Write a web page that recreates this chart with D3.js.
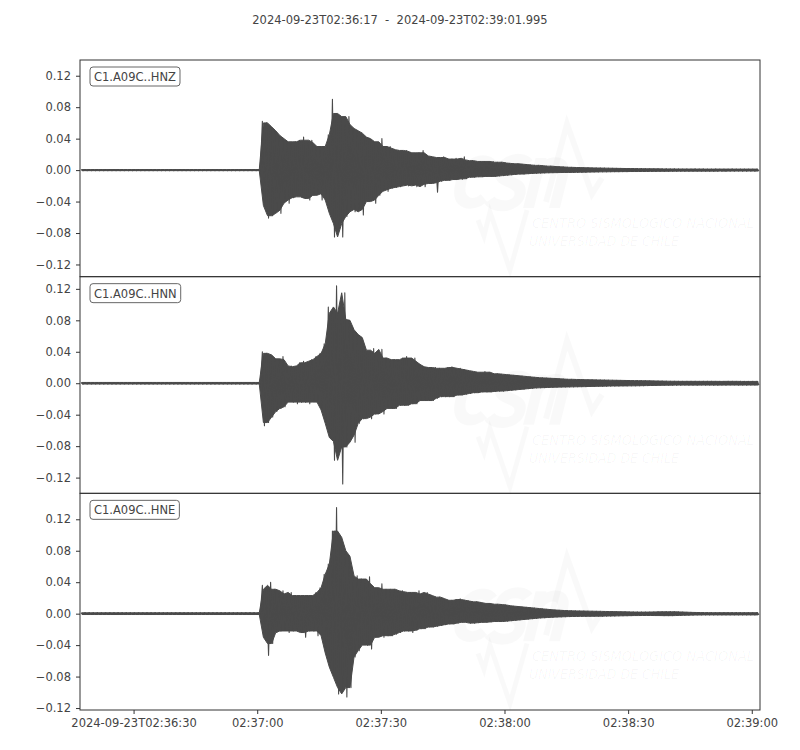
<!DOCTYPE html>
<html><head><meta charset="utf-8">
<script src="https://cdn.jsdelivr.net/npm/d3@7"></script>
<style>body{margin:0;background:#fff} svg{display:block} text{font-family:"DejaVu Sans",sans-serif}</style>
</head><body><svg id="c" width="800" height="750"></svg>
<script>
// ---------------- DATA ----------------
const startTime = "2024-09-23T02:36:17Z";
const endTime = "2024-09-23T02:39:01.995Z";
const titleText = "2024-09-23T02:36:17  -  2024-09-23T02:39:01.995";
const channels = ["C1.A09C..HNZ", "C1.A09C..HNN", "C1.A09C..HNE"];
const sampleStepSec = 1; // one max/min pair per second
// amplitudes below are in units of 0.001 (milli)
const hnzMax = [
 0.7,0.7,0.7,0.7,0.7,0.7,0.7,0.7,0.7,0.7,
 0.7,0.7,0.7,0.7,0.7,0.7,0.7,0.7,0.7,0.7,
 0.7,0.7,0.7,0.7,0.7,0.7,0.7,0.7,0.7,0.7,
 0.7,0.7,0.7,0.7,0.7,0.7,0.7,0.7,0.7,0.7,
 0.7,0.7,0.7,0.7,62,60,55,50,44,40,
 36,33,36,38,42,35,38,30,28,30,
 45,90,72,68,58,68,53,50,47,42,
 40,36,30,40,28,30,26,25,24,25,
 22,20,22,25,18,17,15,16,17,13,
 14,15,13,17,12,12,11,11,11,10,
 11,10,10,9,8.5,8,8,7.5,7,6.5,
 6,6,5.5,5,5,4.5,4.2,4,3.6,3.5,
 3.3,3.2,3,2.9,2.8,2.7,2.6,2.5,2.4,2.3,
 2.2,2.1,2,2,1.9,1.8,1.8,1.7,1.7,1.6,
 1.6,1.5,1.5,1.4,1.5,1.4,1.3,1.4,1.3,1.5,
 1.3,1.4,1.3,1.3,1.4,1.3,1.2,1.3,1.4,1.3,
 1.2,1.3,1.3,1.2,1.3];
const hnzMin = [
 -0.7,-0.7,-0.7,-0.7,-0.7,-0.7,-0.7,-0.7,-0.7,-0.7,
 -0.7,-0.7,-0.7,-0.7,-0.7,-0.7,-0.7,-0.7,-0.7,-0.7,
 -0.7,-0.7,-0.7,-0.7,-0.7,-0.7,-0.7,-0.7,-0.7,-0.7,
 -0.7,-0.7,-0.7,-0.7,-0.7,-0.7,-0.7,-0.7,-0.7,-0.7,
 -0.7,-0.7,-0.7,-0.7,-45,-61,-58,-51,-55,-38,
 -42,-35,-32,-34,-36,-38,-32,-29,-38,-30,
 -55,-85,-68,-85,-59,-47,-53,-50,-57,-40,
 -38,-42,-32,-25,-27,-23,-22,-21,-19,-20,
 -19,-21,-18,-21,-17,-16,-28,-14,-13,-13,
 -12,-11,-12,-11,-9,-9,-8.5,-8.5,-8,-8,
 -8,-7.5,-7,-6.5,-6,-5.5,-5,-5,-4.6,-4.3,
 -4,-3.8,-3.6,-3.4,-3.3,-3.2,-3.1,-3,-3,-2.9,
 -2.8,-2.7,-2.6,-2.5,-2.4,-2.3,-2.2,-2.2,-2.1,-2,
 -2,-1.9,-1.9,-1.8,-1.8,-1.8,-1.7,-1.7,-1.6,-1.6,
 -1.5,-1.5,-1.5,-1.4,-1.3,-1.4,-1.3,-1.3,-1.4,-1.3,
 -1.3,-1.2,-1.3,-1.3,-1.2,-1.3,-1.2,-1.3,-1.2,-1.2,
 -1.3,-1.2,-1.2,-1.3,-1.2];
const hnnMax = [
 1,1,1,1,1,1,1,1,1,1,
 1,1,1,1,1,1,1,1,1,1,
 1,1,1,1,1,1,1,1,1,1,
 1,1,1,1,1,1,1,1,1,1,
 1,1,1,1,40,38,36,31,30,34,
 19,22,21,26,28,23,30,34,38,50,
 97,89,124,81,115,80,68,62,58,42,
 38,44,30,43,32,30,30,28,32,34,
 28,32,24,21,20,19,20,19,18,20,
 21,18,19,17,16,15,14,13,15,14,
 12,12,11.5,11,10.5,10,9.5,9,8.5,8,
 7.5,7,6.8,6.5,6.2,6,5.6,5.3,5,5,
 4.8,4.7,4.5,4.4,4.3,4.2,4.1,4,3.9,3.8,
 3.7,3.6,3.5,3.4,3.3,3.3,3.2,3.1,3,2.9,
 2.8,2.7,2.6,2.5,2.4,2.5,2.4,2.4,2.5,2.4,
 2.3,2.4,2.5,2.4,2.3,2.4,2.3,2.4,2.4,2.3,
 2.4,2.3,2.3,2.4,2.3];
const hnnMin = [
 -1,-1,-1,-1,-1,-1,-1,-1,-1,-1,
 -1,-1,-1,-1,-1,-1,-1,-1,-1,-1,
 -1,-1,-1,-1,-1,-1,-1,-1,-1,-1,
 -1,-1,-1,-1,-1,-1,-1,-1,-1,-1,
 -1,-1,-1,-1,-54,-50,-43,-36,-32,-30,
 -20,-24,-26,-24,-24,-26,-22,-24,-34,-51,
 -69,-98,-74,-128,-81,-66,-75,-51,-45,-43,
 -45,-39,-36,-39,-30,-32,-32,-28,-28,-28,
 -26,-26,-22,-22,-22,-22,-19,-17,-17,-17,
 -17,-15,-15,-14,-13,-12,-12,-11,-11,-11,
 -10.5,-10,-10,-9.5,-9,-8.5,-8,-7.5,-7,-6.5,
 -6,-5.8,-5.6,-5.4,-5.2,-5,-4.9,-4.8,-4.7,-4.6,
 -4.5,-4.4,-4.3,-4.1,-4,-3.9,-3.8,-3.7,-3.6,-3.5,
 -3.5,-3.4,-3.4,-3.3,-3.3,-3.2,-3.1,-3,-2.9,-2.8,
 -2.7,-2.6,-2.5,-2.4,-2.5,-2.4,-2.3,-2.4,-2.4,-2.5,
 -2.3,-2.4,-2.3,-2.4,-2.4,-2.3,-2.4,-2.3,-2.3,-2.4,
 -2.3,-2.4,-2.3,-2.3,-2.4];
const hneMax = [
 1.1,1.1,1.1,1.1,1.1,1.1,1.1,1.1,1.1,1.1,
 1.1,1.1,1.1,1.1,1.1,1.1,1.1,1.1,1.1,1.1,
 1.1,1.1,1.1,1.1,1.1,1.1,1.1,1.1,1.1,1.1,
 1.1,1.1,1.1,1.1,1.1,1.1,1.1,1.1,1.1,1.1,
 1.1,1.1,1.1,1.1,36,31,40,31,25,29,
 21,27,23,22,23,23,22,27,33,50,
 63,105,135,97,80,73,42,48,44,38,
 47,33,30,38,31,31,31,28,29,27,
 27,25,29,25,27,23,21,21,19,17,
 17,18,19,17,16,15,15,14,13,13,
 12,12,11.5,11,10,9.5,9,8.5,8,7.5,
 7,6.5,6,5.5,5,4.6,4.3,4,3.8,3.6,
 3.5,3.4,3.3,3.2,3.1,3,2.9,2.8,2.7,2.6,
 2.5,2.4,2.3,2.2,2.1,2,2,2,2.1,2.2,
 2.3,2.4,2.4,2.5,2.4,2.2,2,1.8,1.6,1.5,
 1.4,1.3,1.2,1.3,1.2,1.2,1.3,1.2,1.2,1.3,
 1.2,1.2,1.3,1.2,1.2];
const hneMin = [
 -1.1,-1.1,-1.1,-1.1,-1.1,-1.1,-1.1,-1.1,-1.1,-1.1,
 -1.1,-1.1,-1.1,-1.1,-1.1,-1.1,-1.1,-1.1,-1.1,-1.1,
 -1.1,-1.1,-1.1,-1.1,-1.1,-1.1,-1.1,-1.1,-1.1,-1.1,
 -1.1,-1.1,-1.1,-1.1,-1.1,-1.1,-1.1,-1.1,-1.1,-1.1,
 -1.1,-1.1,-1.1,-1.1,-30,-53,-38,-24,-22,-19,
 -24,-22,-19,-24,-30,-22,-22,-28,-17,-50,
 -68,-81,-102,-94,-106,-94,-55,-47,-34,-40,
 -45,-30,-28,-30,-28,-28,-26,-24,-22,-22,
 -24,-21,-19,-19,-17,-17,-16,-15,-14,-13,
 -13,-12,-11,-11,-12,-12,-11.5,-11,-11,-10.5,
 -10,-10,-10,-9.5,-9,-8.5,-8,-7.5,-7,-6.5,
 -6,-5.5,-5.2,-4.9,-4.6,-4.3,-4.1,-3.9,-3.7,-3.6,
 -3.5,-3.4,-3.4,-3.3,-3.3,-3.2,-3.2,-3.1,-3,-2.9,
 -2.8,-2.7,-2.6,-2.5,-2.4,-2.4,-2.3,-2.3,-2.3,-2.4,
 -2.4,-2.5,-2.5,-2.5,-2.4,-2.2,-2,-1.9,-1.8,-1.7,
 -1.7,-1.6,-1.6,-1.5,-1.6,-1.6,-1.5,-1.6,-1.6,-1.5,
 -1.6,-1.6,-1.5,-1.6,-1.6];
const maxSeries = [hnzMax, hnnMax, hneMax];
const minSeries = [hnzMin, hnnMin, hneMin];
const yDomains = [[-0.1355, 0.1400], [-0.1400, 0.1355], [-0.1225, 0.1530]];
const yTickValues = [-0.12, -0.08, -0.04, 0.00, 0.04, 0.08, 0.12];
const xTickTimes = ["2024-09-23T02:36:30Z","2024-09-23T02:37:00Z","2024-09-23T02:37:30Z","2024-09-23T02:38:00Z","2024-09-23T02:38:30Z","2024-09-23T02:39:00Z"];
const xTickLabels = ["2024-09-23T02:36:30","02:37:00","02:37:30","02:38:00","02:38:30","02:39:00"];
const watermarkLines = ["CENTRO SISMOLÓGICO NACIONAL", "UNIVERSIDAD DE CHILE"];

// ---------------- LAYOUT ----------------
const W = 800, H = 750;
const L = 80, R = 760, T = 60, B = 710;
const n = channels.length;
const ph = (B - T) / n;
const textColor = "#444", frameColor = "#333", traceColor = "#4a4a4a";
const fontSize = 11.5;

const svg = d3.select("#c");
const t0 = new Date(startTime);
const x = d3.scaleUtc().domain([t0, new Date(endTime)]).range([L, R]);
const at = s => new Date(t0.getTime() + s * sampleStepSec * 1000);

svg.append("text").attr("x", W/2).attr("y", 24).attr("text-anchor", "middle")
  .attr("fill", textColor).attr("font-size", fontSize)
  .style("white-space","pre").text(titleText);

channels.forEach((ch, k) => {
  const top = T + k * ph;
  const y = d3.scaleLinear().domain(yDomains[k]).range([top + ph, top]);
  const g = svg.append("g");
  const clipId = "clip" + k;
  svg.append("clipPath").attr("id", clipId).append("rect")
    .attr("x", L).attr("y", top).attr("width", R - L).attr("height", ph);

  // very faint CSN watermark (decoration)
  const wm = g.append("g").attr("transform", `translate(${L},${top})`);
  const wmCol = "rgba(0,0,0,0.025)";
  const letters = wm.append("g").attr("transform", "translate(428,122) skewX(-14) translate(-428,-122)")
    .attr("fill", "none").attr("stroke", wmCol).attr("stroke-width", 11);
  letters.append("path").attr("d", "M408,106 C400,97 381,98 381,122 C381,146 400,147 408,138");
  letters.append("path").attr("d", "M443,104 C436,96 416,98 418,112 C420,124 443,120 443,135 C443,149 421,148 414,140");
  letters.append("path").attr("d", "M455,148 L455,98 M455,118 C455,100 481,96 481,116 L481,148");
  wm.append("path").attr("fill", "none").attr("stroke", wmCol).attr("stroke-width", 5)
    .attr("d", d3.line()([[398,160],[404,176],[410,152],[430,210],[447,150]]));
  wm.append("path").attr("fill", "none").attr("stroke", wmCol).attr("stroke-width", 6)
    .attr("d", d3.line()([[466,142],[487,64],[512,134],[522,118]]));
  watermarkLines.forEach((s, j) => {
    wm.append("text").attr("x", j ? 449 : 452).attr("y", j ? 186 : 168)
      .attr("font-size", 14).attr("font-style", "italic").attr("fill", "rgba(0,0,0,0.035)")
      .attr("textLength", j ? 150 : 222).attr("lengthAdjust", "spacingAndGlyphs").text(s);
  });

  // waveform: solid core (median of neighbouring extremes) plus per-second max/min zigzag
  const mx = maxSeries[k], mn = minSeries[k];
  const idx = d3.range(mx.length);
  const med3 = (arr, i) => d3.median(arr.slice(Math.max(0, i - 1), i + 2));
  const core = d3.area()
    .x(i => x(at(i + 0.5)))
    .y1(i => y(med3(mx, i) / 1000))
    .y0(i => y(med3(mn, i) / 1000));
  g.append("path").attr("clip-path", `url(#${clipId})`)
    .attr("fill", traceColor).attr("stroke", traceColor).attr("stroke-width", 1)
    .attr("d", core(idx));
  const pts = [];
  idx.forEach(i => { pts.push([at(i + 0.25), mx[i] / 1000]); pts.push([at(i + 0.75), mn[i] / 1000]); });
  g.append("path").attr("clip-path", `url(#${clipId})`)
    .attr("fill", "none").attr("stroke", traceColor).attr("stroke-width", 1.1)
    .attr("stroke-linejoin", "round")
    .attr("d", d3.line().x(d => x(d[0])).y(d => y(d[1]))(pts));

  // frame
  g.append("rect").attr("x", L).attr("y", top).attr("width", R - L).attr("height", ph)
    .attr("fill", "none").attr("stroke", frameColor).attr("stroke-width", 1);

  // y axis
  const ya = g.append("g").attr("transform", `translate(${L},0)`)
    .call(d3.axisLeft(y).tickValues(yTickValues).tickFormat(d3.format(".2f")).tickSize(4).tickPadding(5));
  ya.select(".domain").remove();
  ya.selectAll("line").attr("stroke", frameColor);
  ya.selectAll("text").attr("fill", textColor).attr("font-size", fontSize)
    .attr("font-family", "DejaVu Sans");

  // channel label
  const lab = g.append("g").attr("transform", `translate(${L + 10},${top + 7})`);
  const txt = lab.append("text").attr("x", 4).attr("y", 14).attr("fill", textColor)
    .attr("font-size", fontSize).text(ch);
  const bw = txt.node().getComputedTextLength() + 8;
  lab.insert("rect", "text").attr("width", bw).attr("height", 19).attr("rx", 3)
    .attr("fill", "#fff").attr("stroke", "#666").attr("stroke-width", 1);
});

// x axis
const xa = svg.append("g").attr("transform", `translate(0,${B})`)
  .call(d3.axisBottom(x).tickValues(xTickTimes.map(s => new Date(s)))
    .tickFormat((d, i) => xTickLabels[i]).tickSize(4).tickPadding(5));
xa.select(".domain").remove();
xa.selectAll("line").attr("stroke", frameColor);
xa.selectAll("text").attr("fill", textColor).attr("font-size", fontSize)
  .attr("font-family", "DejaVu Sans");
</script></body></html>
